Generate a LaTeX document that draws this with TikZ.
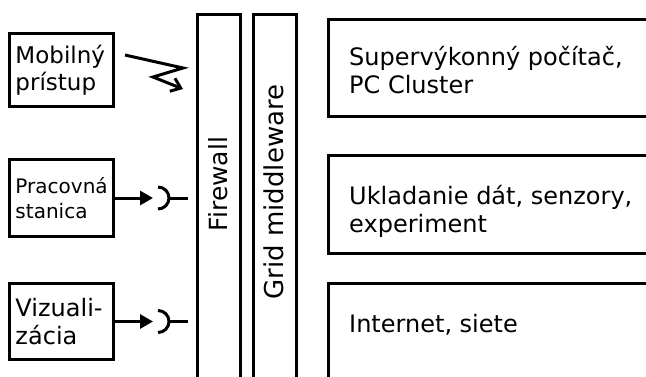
\documentclass[tikz,border=0pt]{standalone}
\usepackage{fontspec}
\setmainfont{DejaVu Sans}
\usetikzlibrary{arrows.meta}

\begin{document}
\begin{tikzpicture}[x=1pt,y=-1pt,
  blok/.style={draw, line width=3pt, anchor=north west},
  klient/.style={blok, inner xsep=6pt, inner ysep=0pt, text width=92pt, align=left},
  stlpec/.style={blok, minimum width=43pt, minimum height=400pt, inner sep=0pt},
  zdroj/.style={blok, minimum width=360pt},
  popis/.style={anchor=west, align=left, inner sep=6pt, font=\fontsize{24}{28}\selectfont},
  spoj/.style={line width=3pt}]
\useasboundingbox (0,0) rectangle (646,376);
\clip (0,0) rectangle (646,376);

% klienti vlavo
\node[klient, minimum height=73pt, font=\fontsize{23}{27}\selectfont] (mob) at (8,32) {Mobilný\\prístup};
\node[klient, minimum height=77pt, font=\fontsize{20}{25}\selectfont] (prac) at (8,158) {Pracovná\\stanica};
\node[klient, minimum height=76pt, font=\fontsize{24}{28}\selectfont] (viz) at (8,282) {Vizuali-\\zácia};

% firewall a middleware
\node[stlpec] (fw) at (196,13) {};
\node[stlpec] (mw) at (252,13) {};
\node[rotate=90, font=\fontsize{25}{30}\selectfont] (fwtext) at (218,184) {Firewall};
\node[rotate=90, font=\fontsize{26}{30}\selectfont] (mwtext) at (274,192) {Grid middleware};

% zdroje vpravo
\node[zdroj, minimum height=97pt] (super) at (327,18) {};
\node[zdroj, minimum height=98pt] (data) at (327,154) {};
\node[zdroj, minimum height=140pt] (net) at (327,282) {};
\node[popis] (supertext) at (343,70) {Supervýkonný počítač,\\PC Cluster};
\node[popis] (datatext) at (343,211) {Ukladanie dát, senzory,\\experiment};
\node[popis] (nettext) at (343,325) {Internet, siete};

% bezdrotovy pristup
\coordinate (bolt) at ([xshift=10pt,yshift=15pt]mob.east);
\draw[spoj, -{Straight Barb[length=9pt,width=14pt]}] (bolt) -- ++(58,13) -- ++(-30,9) -- ++(30,12);

% zasuvky
\foreach \k in {prac,viz} {
 \coordinate (\k-tip) at ([xshift=38pt]\k.east);
 \coordinate (\k-plug) at ([xshift=16pt]\k-tip);
 \draw[spoj, -{Triangle[length=13pt,width=14pt]}] (\k.east) -- (\k-tip);
 \draw[spoj] ([xshift=5pt,yshift=11pt]\k-tip) arc[start angle=90, end angle=-90, radius=11pt];
 \draw[spoj, shorten >=8pt] (\k-plug) -- (fw.west |- \k-plug);
}
\end{tikzpicture}
\end{document}
